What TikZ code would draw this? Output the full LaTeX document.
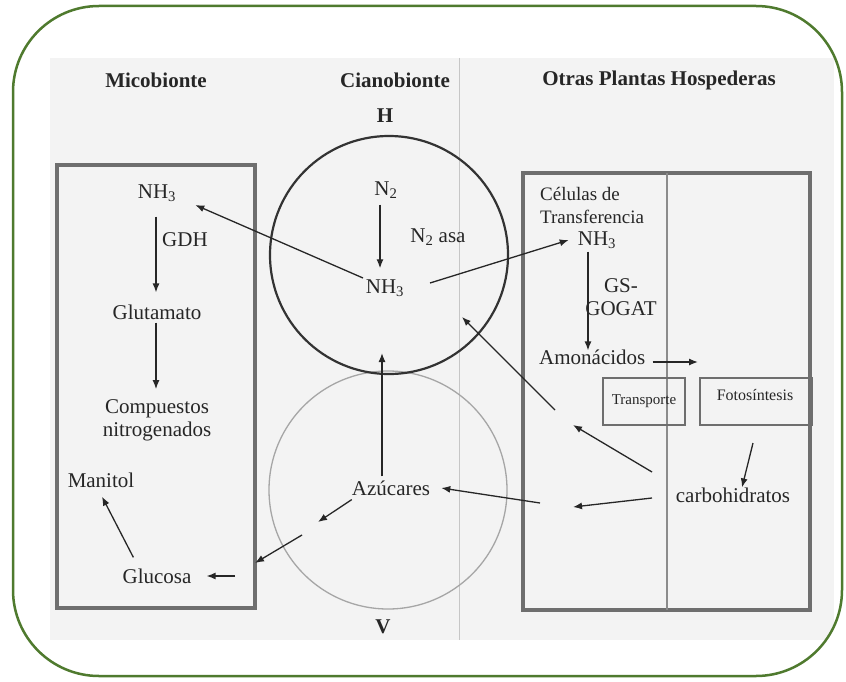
\documentclass[tikz,border=0pt]{standalone}
\usepackage{fontspec}
\setmainfont{Liberation Serif}
\usetikzlibrary{arrows.meta}
\definecolor{frame}{HTML}{4F7A2E}
\definecolor{ink}{HTML}{262626}
\definecolor{boxgray}{HTML}{6E6E6E}
\definecolor{bg}{HTML}{F3F3F3}
\tikzset{
  txt/.style={text=ink, inner sep=1pt, font=\fontsize{21}{23}\selectfont},
  ttl/.style={text=ink, inner sep=1pt, font=\fontsize{21}{24}\selectfont\bfseries},
  arr/.style={draw=ink, line width=1.3pt, -{Latex[length=9pt,width=7pt]}},
  bigbox/.style={draw=boxgray, line width=4pt},
  smallbox/.style={draw=boxgray, line width=2pt, inner sep=0pt}
}
\begin{document}
\begin{tikzpicture}[x=1pt,y=-1pt]
\useasboundingbox (0,0) rectangle (846,682);
% outer frame fill
\fill[white, rounded corners=86pt] (13,6) rectangle (842,676);
% scanned background, kept inside the frame
\begin{scope}
\clip[rounded corners=86pt] (13,6) rectangle (842,676);
\fill[bg] (50,58) rectangle (834,640);
\end{scope}
\draw[frame, line width=2.5pt, rounded corners=86pt] (13,6) rectangle (842,676);
\draw[gray!45, line width=0.8pt] (459,58) -- (459,640);
% titles
\node[ttl] (tmic) at (156,80) {Micobionte};
\node[ttl] (tcia) at (395,80) {Cianobionte};
\node[ttl] (totr) at (659,80) {Otras Plantas Hospederas};
\node[ttl] (hh) at (385,116) {H};
\node[ttl] (vv) at (383,627) {V};
% boxes
\draw[bigbox] (57,165) rectangle (255,608);
\draw[bigbox] (523,173) rectangle (810,610);
\draw[boxgray!80, line width=1.2pt] (667,173) -- (667,610);
% circles
\draw[draw=black!35, line width=1.3pt] (388,490) circle (119);
\draw[draw=black!80, line width=2.2pt] (389,255) circle (119);
% Micobionte texts
\node[txt] (nhl) at (157,193) {NH\textsubscript{3}};
\node[txt, anchor=west] (gdh) at (161,240) {GDH};
\node[txt] (glu) at (157,312) {Glutamato};
\node[txt, align=center] (comp) at (157,420) {Compuestos\\nitrogenados};
\node[txt] (man) at (101,480) {Manitol};
\node[txt] (gluc) at (157,576) {Glucosa};
% Cianobionte texts
\node[txt] (n2) at (386,190) {N\textsubscript{2}};
\node[txt] (n2asa) at (438,237) {N\textsubscript{2} asa};
\node[txt] (nhc) at (385,288) {NH\textsubscript{3}};
\node[txt] (azu) at (391,488) {Azúcares};
% Otras plantas texts
\node[txt, font=\fontsize{19}{23}\selectfont, align=left, anchor=west] (cel) at (539,205) {Células de\\Transferencia};
\node[txt] (nhr) at (597,240) {NH\textsubscript{3}};
\node[txt, align=center] (gs) at (621,297) {GS-\\GOGAT};
\node[txt, anchor=west] (amo) at (538,357) {Amonácidos};
\node[smallbox, minimum width=82pt, minimum height=47pt, font=\fontsize{15}{17}\selectfont, text=ink] (tra) at (644,401.5) {Transporte};
\node[draw=boxgray, line width=2pt, minimum width=112pt, minimum height=47pt, inner sep=0pt] (fot) at (756,401.5) {};
\node[text=ink, font=\fontsize{16}{18}\selectfont] (fott) at (755,395) {Fotosíntesis};
\node[txt] (carb) at (733,495) {carbohidratos};
% free-end coordinates
\coordinate (amoend) at (698,362);
\coordinate (c1start) at (652,472);
\coordinate (c2start) at (652,498);
\coordinate (up1) at (573,425);
\coordinate (mid1) at (573,507);
\coordinate (linestart) at (555,410);
\coordinate (circtip) at (462,317);
\coordinate (azstart) at (540,503);
\coordinate (azup) at (382,353);
\coordinate (azdl) at (318,522);
\coordinate (gstart) at (302,535);
\coordinate (gend) at (255,563);
\coordinate (glstart) at (235,576);
\coordinate (nhcl) at (363,278);
\coordinate (nhcr) at (430,283);
% connectors (yshift positive = up)
\draw[arr] ([xshift=-6pt,yshift=-5pt]n2.south) -- ([xshift=-5pt,yshift=10pt]nhc.north);
\draw[arr] (nhcl) -- ([xshift=18pt,yshift=-12pt]nhl.east);
\draw[arr] (nhcr) -- ([xshift=-8pt,yshift=0pt]nhr.west);
\draw[arr] ([xshift=-9pt,yshift=-2pt]nhr.south) -- ([xshift=-9pt,yshift=-2pt]nhr.south |- amo.north);
\draw[arr] ([xshift=6pt,yshift=-5pt]amo.east) -- (amoend);
\draw[arr] ([xshift=-3pt,yshift=-17pt]fot.south) -- ([xshift=9pt,yshift=-1pt]carb.north);
\draw[arr] (c1start) -- (up1);
\draw[arr] (c2start) -- (mid1);
\draw[arr] (linestart) -- (circtip);
\draw[arr] (azstart) -- ([xshift=10pt]azu.east);
\draw[arr] ([xshift=-9pt,yshift=3pt]azu.north) -- (azup);
\draw[arr] ([xshift=1pt,yshift=-3pt]azu.south west) -- (azdl);
\draw[arr] (gstart) -- (gend);
\draw[arr] (glstart) -- ([xshift=14pt]gluc.east);
\draw[arr] ([xshift=12pt,yshift=10pt]gluc.north west) -- ([xshift=1pt,yshift=-8pt]man.south);
\draw[arr] ([xshift=-1pt,yshift=-14pt]nhl.south) -- ([xshift=-1pt,yshift=11pt]glu.north);
\draw[arr] ([xshift=-1pt,yshift=-2pt]glu.south) -- ([xshift=-1pt,yshift=9pt]comp.north);
\end{tikzpicture}
\end{document}
